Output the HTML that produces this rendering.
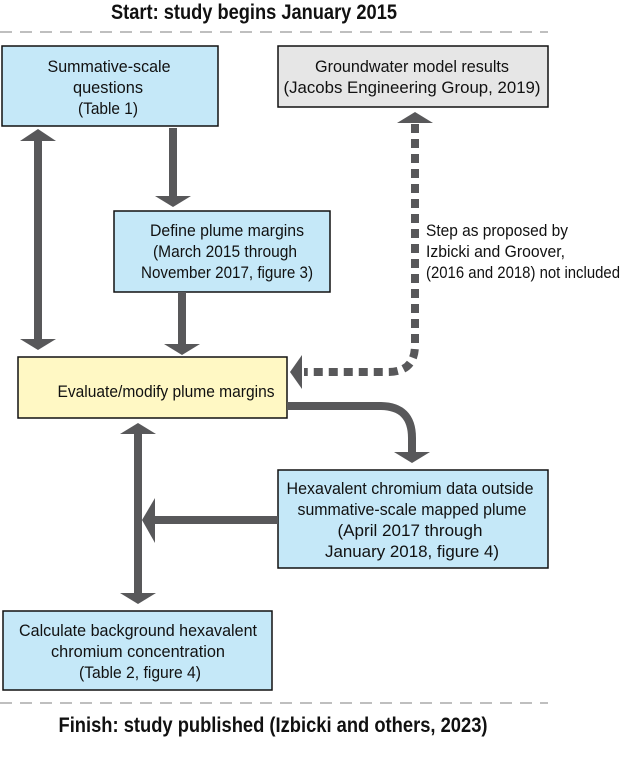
<!DOCTYPE html>
<html><head><meta charset="utf-8"><style>
html,body{margin:0;padding:0;background:#fff;}
svg{display:block;}
text{font-family:"Liberation Sans Narrow","Liberation Sans",sans-serif;fill:#111;}
</style></head><body>
<svg width="621" height="763" viewBox="0 0 621 763" xmlns="http://www.w3.org/2000/svg">
<text x="254" y="19" font-size="21" font-weight="bold" text-anchor="middle" textLength="286" lengthAdjust="spacingAndGlyphs">Start: study begins January 2015</text>
<line x1="0" y1="32" x2="548" y2="32" stroke="#aaa" stroke-width="1.6" stroke-dasharray="12,8"/>
<line x1="0" y1="703" x2="548" y2="703" stroke="#aaa" stroke-width="1.6" stroke-dasharray="12,8"/>
<text x="273" y="732" font-size="21" font-weight="bold" text-anchor="middle" textLength="429" lengthAdjust="spacingAndGlyphs">Finish: study published (Izbicki and others, 2023)</text>

<g stroke="#111" stroke-width="1.5">
<rect x="2" y="46" width="216" height="80" fill="#c5e8f8"/>
<rect x="278" y="46" width="270" height="61" fill="#e6e6e6"/>
<rect x="114" y="211" width="216" height="81" fill="#c5e8f8"/>
<rect x="18" y="357" width="269" height="61" fill="#fff8c4"/>
<rect x="278" y="470" width="270" height="98" fill="#c5e8f8"/>
<rect x="3" y="611" width="269" height="79" fill="#c5e8f8"/>
</g>

<g font-size="17" text-anchor="middle" lengthAdjust="spacingAndGlyphs">
<text x="109" y="72" textLength="123" lengthAdjust="spacingAndGlyphs">Summative-scale</text>
<text x="108" y="93" textLength="70" lengthAdjust="spacingAndGlyphs">questions</text>
<text x="108" y="114" textLength="60" lengthAdjust="spacingAndGlyphs">(Table 1)</text>
<text x="412" y="72" textLength="194" lengthAdjust="spacingAndGlyphs">Groundwater model results</text>
<text x="412" y="93" textLength="257" lengthAdjust="spacingAndGlyphs">(Jacobs Engineering Group, 2019)</text>
<text x="227" y="236" textLength="154" lengthAdjust="spacingAndGlyphs">Define plume margins</text>
<text x="225" y="257" textLength="144" lengthAdjust="spacingAndGlyphs">(March 2015 through</text>
<text x="227" y="278" textLength="172" lengthAdjust="spacingAndGlyphs">November 2017, figure 3)</text>
<text x="166" y="397" textLength="217" lengthAdjust="spacingAndGlyphs">Evaluate/modify plume margins</text>
<text x="410" y="494" textLength="247" lengthAdjust="spacingAndGlyphs">Hexavalent chromium data outside</text>
<text x="412" y="515" textLength="229" lengthAdjust="spacingAndGlyphs">summative-scale mapped plume</text>
<text x="410" y="536" textLength="145" lengthAdjust="spacingAndGlyphs">(April 2017 through</text>
<text x="412" y="557" textLength="174" lengthAdjust="spacingAndGlyphs">January 2018, figure 4)</text>
<text x="138" y="636" textLength="238" lengthAdjust="spacingAndGlyphs">Calculate background hexavalent</text>
<text x="138" y="657" textLength="174" lengthAdjust="spacingAndGlyphs">chromium concentration</text>
<text x="140" y="678" textLength="122" lengthAdjust="spacingAndGlyphs">(Table 2, figure 4)</text>
</g>
<g font-size="17">
<text x="426" y="236" textLength="142" lengthAdjust="spacingAndGlyphs">Step as proposed by</text>
<text x="426" y="257" textLength="139" lengthAdjust="spacingAndGlyphs">Izbicki and Groover,</text>
<text x="426" y="278" textLength="194" lengthAdjust="spacingAndGlyphs">(2016 and 2018) not included</text>
</g>

<g fill="#58585a" stroke="none">
<rect x="34" y="140" width="8" height="200"/>
<polygon points="38,129 56,141 20,141"/>
<polygon points="38,350 56,339 20,339"/>
<rect x="169" y="128" width="8" height="70"/>
<polygon points="173,207 191,196 155,196"/>
<rect x="178" y="292" width="8" height="53"/>
<polygon points="182,355 200,344 164,344"/>
<polygon points="415,112 433,123 397,123"/>
<polygon points="290,372 302,355 302,389"/>
<polygon points="412,463 430,452 394,452"/>
<rect x="152" y="516" width="126" height="8"/>
<polygon points="142,520 155,498 155,543"/>
<rect x="134" y="432" width="8" height="162"/>
<polygon points="138,423 156,434 120,434"/>
<polygon points="138,604 156,593 120,593"/>
</g>
<path d="M415,124 V345 Q415,372 388,372 H304" fill="none" stroke="#58585a" stroke-width="8" stroke-dasharray="9,6"/>
<path d="M287,406 H380 Q412,406 412,438 V454" fill="none" stroke="#58585a" stroke-width="8"/>
</svg>
</body></html>
